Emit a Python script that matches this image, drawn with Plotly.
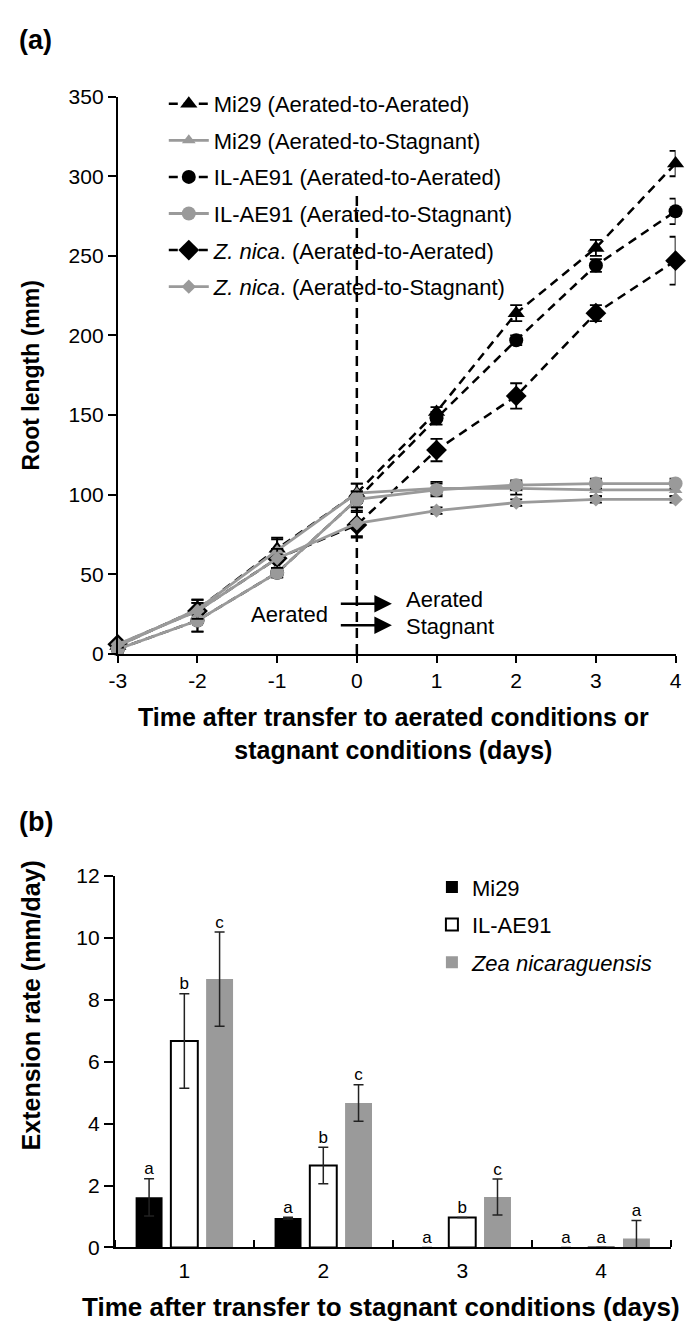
import plotly.graph_objects as go

W, H = 700, 1335

# ---------------- Data: panel (a) ----------------
days_a = [-3, -2, -1, 0, 1, 2, 3, 4]
mi29_aer = [5, 28, 66, 101, 152, 214, 255, 308]
mi29_aer_err = [2, 6, 7, 6, 3, 5, 5, 8]
mi29_stag = [5, 28, 65, 101, 104, 104, 103, 103]
mi29_stag_err = [2, 6, 7, 6, 4, 4, 4, 4]
il_aer = [3, 21, 51, 97, 148, 197, 244, 278]
il_aer_err = [2, 7, 3, 5, 4, 3, 4, 8]
il_stag = [3, 21, 51, 97, 103, 106, 107, 107]
il_stag_err = [2, 7, 3, 5, 4, 3, 3, 3]
zn_aer = [6, 27, 60, 81, 128, 162, 214, 247]
zn_aer_err = [2, 5, 6, 8, 7, 8, 5, 15]
zn_stag = [6, 27, 60, 82, 90, 95, 97, 97]
zn_stag_err = [2, 5, 6, 8, 2, 2, 2, 2]
y_ticks_a = [0, 50, 100, 150, 200, 250, 300, 350]
x_ticklabels_a = ["-3", "-2", "-1", "0", "1", "2", "3", "4"]
transfer_day = 0
transfer_line_top = 290

# ---------------- Data: panel (b) ----------------
days_b = [1, 2, 3, 4]
mi29_rate = [1.62, 0.95, 0, 0]
mi29_rate_err = [0.6, 0.03, None, None]
il_rate = [6.67, 2.65, 0.97, 0]
il_rate_err = [1.53, 0.59, None, None]
zn_rate = [8.67, 4.67, 1.63, 0.29]
zn_rate_err = [1.52, 0.59, 0.58, 0.58]
mi29_letters = ["a", "a", "a", "a"]
il_letters = ["b", "b", "b", "a"]
zn_letters = ["c", "c", "c", "a"]
y_ticks_b = [0, 2, 4, 6, 8, 10, 12]

BLACK = "black"
GRAY = "#9a9a9a"
FONT = "Liberation Sans, Arial, sans-serif"


def fx(p):
    return p / W


def fy(p):
    return 1 - p / H


fig = go.Figure()

series = [
    ("Mi29 (Aerated-to-Aerated)", mi29_aer, mi29_aer_err, BLACK, "dash", "triangle-up", 15, 1),
    ("IL-AE91 (Aerated-to-Aerated)", il_aer, il_aer_err, BLACK, "dash", "circle", 14, 3),
    ("<i>Z. nica</i>. (Aerated-to-Aerated)", zn_aer, zn_aer_err, BLACK, "dash", "diamond", 16, 5),
    ("Mi29 (Aerated-to-Stagnant)", mi29_stag, mi29_stag_err, GRAY, "solid", "triangle-up", 12, 2),
    ("IL-AE91 (Aerated-to-Stagnant)", il_stag, il_stag_err, GRAY, "solid", "circle", 14, 4),
    ("<i>Z. nica</i>. (Aerated-to-Stagnant)", zn_stag, zn_stag_err, GRAY, "solid", "diamond", 11, 6),
]
for name, ys, es, col, dash, sym, size, rank in series:
    fig.add_trace(go.Scatter(
        x=days_a, y=ys, name=name, mode="lines+markers",
        line=dict(color=col, width=2.5 if dash == "dash" else 2.8,
                  dash="9px,6px" if dash == "dash" else "solid"),
        marker=dict(symbol=sym, size=size, color=col),
        error_y=dict(type="data", array=es, visible=True, color=BLACK, thickness=1.8, width=6),
        legendgroup=f"g{rank}", legendrank=rank, legend="legend",
        cliponaxis=False, xaxis="x", yaxis="y",
    ))

# ---------------- Panel (b) bars ----------------
bargap = 0.239
bargroupgap = 0.236
group_w = 1 - bargap
bars = [
    ("Mi29", mi29_rate, mi29_rate_err, mi29_letters, BLACK, BLACK, 0),
    ("IL-AE91", il_rate, il_rate_err, il_letters, "white", BLACK, 2),
    ("<i>Zea nicaraguensis</i>", zn_rate, zn_rate_err, zn_letters, GRAY, GRAY, 0),
]
for i, (name, vals, errs, lets, fill, edge, lw) in enumerate(bars):
    fig.add_trace(go.Bar(
        x=days_b, y=vals, name=name, marker=dict(color=fill, line=dict(color=edge, width=lw)),
        error_y=dict(type="data", array=errs, visible=True, color="#222222", thickness=1.5, width=5),
        xaxis="x2", yaxis="y2", legend="legend2", legendgroup=f"b{i}",
    ))
    shift = (i - 1) * group_w / 3
    fig.add_trace(go.Scatter(
        x=[d + shift for d in days_b],
        y=[v + (e if e is not None else 0) for v, e in zip(vals, errs)],
        mode="text", text=lets, textposition="top center",
        textfont=dict(family=FONT, size=17, color="black"),
        showlegend=False, cliponaxis=False, xaxis="x2", yaxis="y2", hoverinfo="skip",
    ))

axis_common = dict(showgrid=False, zeroline=False, showline=True, linecolor="black", linewidth=2,
                   tickcolor="black", tickwidth=2, tickfont=dict(family=FONT, size=21, color="black"))

fig.update_layout(
    width=W, height=H, margin=dict(l=0, r=0, t=0, b=0),
    plot_bgcolor="white", paper_bgcolor="white",
    barmode="group", bargap=bargap, bargroupgap=bargroupgap,
    xaxis=dict(domain=[fx(103), fx(673)], anchor="y", range=[-3, 4], tickvals=days_a,
               ticktext=x_ticklabels_a, ticks="outside", ticklen=7, ticklabelstandoff=0, **axis_common),
    yaxis=dict(domain=[fy(645), fy(78)], anchor="x", range=[0, 350], tickvals=y_ticks_a,
               ticks="outside", ticklen=8, **axis_common),
    xaxis2=dict(domain=[fx(100), fx(668)], anchor="y2", range=[0.5, 4.5], tickvals=days_b,
                ticks="", ticklabelstandoff=3,
                minor=dict(tickmode="array", tickvals=[0.5, 1.5, 2.5, 3.5, 4.5], ticks="inside",
                           ticklen=7, tickwidth=2, tickcolor="black"),
                **axis_common),
    yaxis2=dict(domain=[fy(1249), fy(871)], anchor="x2", range=[0, 12], tickvals=y_ticks_b,
                ticks="outside", ticklen=9, **axis_common),
    legend=dict(x=fx(150), y=fy(64), xanchor="left", yanchor="top", bgcolor="rgba(0,0,0,0)",
                font=dict(family=FONT, size=22, color="black"), tracegroupgap=5,
                traceorder="grouped", itemwidth=40),
    legend2=dict(x=fx(424), y=fy(861), xanchor="left", yanchor="top", bgcolor="rgba(0,0,0,0)",
                 font=dict(family=FONT, size=22, color="black"), tracegroupgap=6,
                 traceorder="grouped"),
    showlegend=True,
)

fig.add_shape(type="line", xref="x", yref="y", x0=transfer_day, x1=transfer_day, y0=0,
              y1=transfer_line_top, line=dict(color="black", width=2.5, dash="10px,6px"), layer="below")

# arrows
for yv in [31.5, 18]:
    fig.add_annotation(x=0.44, y=yv, ax=-0.22, ay=yv, xref="x", yref="y", axref="x", ayref="y",
                       text="", showarrow=True, arrowhead=2, arrowsize=1.4, arrowwidth=2.5,
                       arrowcolor="black", standoff=0)
ann_font = dict(family=FONT, size=22, color="black")
fig.add_annotation(x=-0.34, y=25, xref="x", yref="y", text="Aerated", showarrow=False,
                   xanchor="right", yanchor="middle", font=ann_font)
fig.add_annotation(x=0.59, y=34, xref="x", yref="y", text="Aerated", showarrow=False,
                   xanchor="left", yanchor="middle", font=ann_font)
fig.add_annotation(x=0.59, y=17, xref="x", yref="y", text="Stagnant", showarrow=False,
                   xanchor="left", yanchor="middle", font=ann_font)

tfont = dict(family=FONT, size=25, color="black")
lfont = dict(family=FONT, size=27, color="black")
fig.add_annotation(x=fx(0), y=fy(3), xref="paper", yref="paper", text="<b>(a)</b>", showarrow=False,
                   xanchor="left", yanchor="top", font=lfont)
fig.add_annotation(x=fx(0), y=fy(816), xref="paper", yref="paper", text="<b>(b)</b>", showarrow=False,
                   xanchor="left", yanchor="middle", font=lfont)
fig.add_annotation(x=fx(14), y=fy(362), xref="paper", yref="paper", text="<b>Root length (mm)</b>",
                   showarrow=False, textangle=-90, xanchor="center", yanchor="middle",
                   font=dict(family=FONT, size=23, color="black"))
fig.add_annotation(x=fx(14), y=fy(1003), xref="paper", yref="paper", text="<b>Extension rate (mm/day)</b>",
                   showarrow=False, textangle=-90, xanchor="center", yanchor="middle", font=tfont)
fig.add_annotation(x=fx(385), y=fy(726), xref="paper", yref="paper",
                   text="<b>Time after transfer to aerated conditions or<br>stagnant conditions (days)</b>",
                   showarrow=False, xanchor="center", yanchor="middle", font=tfont)
fig.add_annotation(x=fx(372), y=fy(1310), xref="paper", yref="paper",
                   text="<b>Time after transfer to stagnant conditions (days)</b>",
                   showarrow=False, xanchor="center", yanchor="middle",
                   font=dict(family=FONT, size=26, color="black"))

fig.write_html("out.html")
